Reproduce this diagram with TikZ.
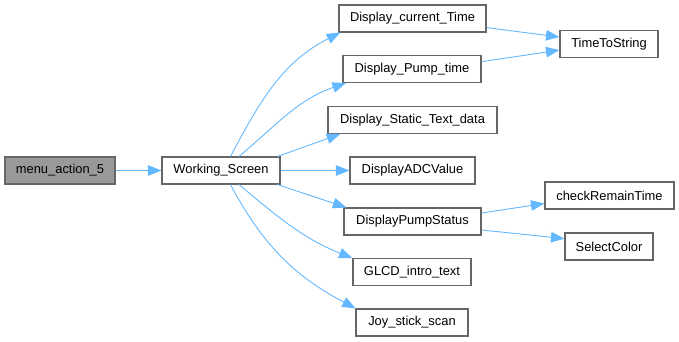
\documentclass[tikz,border=0pt]{standalone}
\usepackage{fontspec}
\setmainfont{Liberation Sans}
\usetikzlibrary{arrows.meta}
\definecolor{edgeblue}{HTML}{63B8FF}
\definecolor{boxline}{HTML}{666666}
\definecolor{boxfill}{HTML}{999999}
\tikzset{
  fn/.style={draw=boxline, line width=1.1pt, fill=white, minimum height=27pt,
             inner sep=0pt, font=\fontsize{12.9}{14}\selectfont, text=black},
  current/.style={fn, fill=boxfill},
  call/.style={draw=edgeblue, line width=0.9pt,
               -{Triangle[length=13.5pt,width=10.5pt,fill=edgeblue]}}
}
\begin{document}
\begin{tikzpicture}[x=1pt,y=1pt]
\useasboundingbox (0,0) rectangle (679,-341);

% functions
\node[current, minimum width=110pt] (menu) at (60,-170.5) {menu\_action\_5};
\node[fn, minimum width=118pt] (ws)   at (221,-170.5) {Working\_Screen};
\node[fn, minimum width=147pt] (dct)  at (412.5,-18.5) {Display\_current\_Time};
\node[fn, minimum width=98pt]  (tts)  at (609,-44) {TimeToString};
\node[fn, minimum width=138pt] (dpt)  at (412,-69) {Display\_Pump\_time};
\node[fn, minimum width=169pt] (sta)  at (412.5,-120) {Display\_Static\_Text\_data};
\node[fn, minimum width=125pt] (adc)  at (412.5,-170.5) {DisplayADCValue};
\node[fn, minimum width=137pt] (dps)  at (412.5,-221.5) {DisplayPumpStatus};
\node[fn, minimum width=129pt] (crt)  at (609.5,-195.5) {checkRemainTime};
\node[fn, minimum width=88pt]  (sc)   at (609,-246.5) {SelectColor};
\node[fn, minimum width=118pt] (glcd) at (412,-272) {GLCD\_intro\_text};
\node[fn, minimum width=112pt] (joy)  at (412,-322.5) {Joy\_stick\_scan};

% calls
\draw[call] (menu.east) -- (ws.west);
\draw[call] (ws.56) to[out=62,in=207] (dct.191);
\draw[call] (ws.38.5) to[out=40,in=199] (dpt.192);
\draw[call] (ws.14) -- (sta.191);
\draw[call] (ws.east) -- (adc.west);
\draw[call] (ws.-14) -- (dps.168);
\draw[call] (ws.-38.5) to[out=-40,in=158] (glcd.167);
\draw[call] (ws.-56) to[out=-62,in=152] (joy.166);
\draw[call] (dct.-7.4) -- (tts.172);
\draw[call] (dpt.6.6) -- (tts.187);
\draw[call] (dps.7.9) -- (crt.187.5);
\draw[call] (dps.-7.1) -- (sc.170.3);
\end{tikzpicture}
\end{document}
